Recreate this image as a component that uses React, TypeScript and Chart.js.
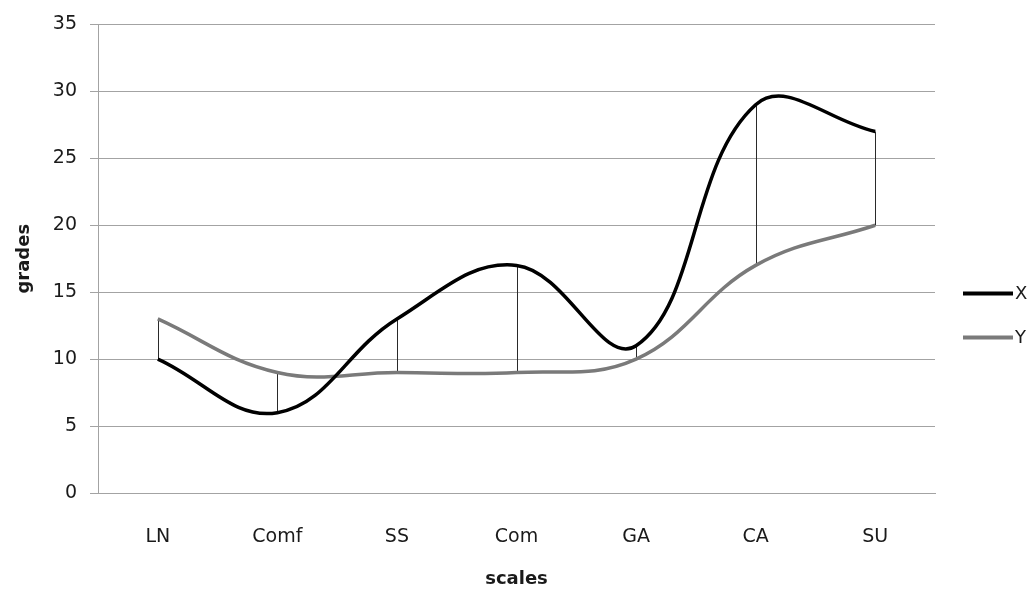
import React, { useEffect, useRef } from "react";
import { Chart, registerables } from "chart.js";

Chart.register(...registerables);

const categories = ["LN", "Comf", "SS", "Com", "GA", "CA", "SU"];
const seriesX = [10, 6, 13, 17, 11, 29, 27];
const seriesY = [13, 9, 9, 9, 10, 17, 20];
const seriesNames = ["X", "Y"];
const seriesColors = ["#000000", "#7a7a7a"];
const yMin = 0;
const yMax = 35;
const yStep = 5;

const FONT = "'DejaVu Sans', 'Open Sans', sans-serif";
const TEXT = "#1a1a1a";
const GRID = "#a3a3a3";

const hiLoPlugin = {
  id: "hiLoLines",
  beforeDatasetsDraw(chart: any) {
    const { ctx, scales } = chart;
    const a = chart.data.datasets[0].data as number[];
    const b = chart.data.datasets[1].data as number[];
    ctx.save();
    ctx.strokeStyle = "#2a2a2a";
    ctx.lineWidth = 1;
    for (let i = 0; i < a.length; i++) {
      const x = Math.round(scales.x.getPixelForValue(i)) + 0.5;
      ctx.beginPath();
      ctx.moveTo(x, scales.y.getPixelForValue(a[i]));
      ctx.lineTo(x, scales.y.getPixelForValue(b[i]));
      ctx.stroke();
    }
    ctx.restore();
  },
};

const legendPlugin = {
  id: "sideLegend",
  afterDraw(chart: any) {
    const { ctx, chartArea } = chart;
    ctx.save();
    chart.data.datasets.forEach((ds: any, i: number) => {
      const y = chartArea.top + 269 + i * 44;
      const x0 = chartArea.right + 28;
      ctx.strokeStyle = ds.borderColor;
      ctx.lineWidth = 4;
      ctx.beginPath();
      ctx.moveTo(x0, y);
      ctx.lineTo(x0 + 50, y);
      ctx.stroke();
      ctx.fillStyle = TEXT;
      ctx.font = `18px ${FONT}`;
      ctx.textAlign = "left";
      ctx.textBaseline = "middle";
      ctx.fillText(ds.label, x0 + 52, y + 1);
    });
    ctx.restore();
  },
};

export default function App() {
  const ref = useRef<HTMLCanvasElement | null>(null);

  useEffect(() => {
    if (!ref.current) return;
    const chart = new Chart(ref.current, {
      type: "line",
      data: {
        labels: categories,
        datasets: [
          {
            label: seriesNames[0],
            data: seriesX,
            borderColor: seriesColors[0],
            backgroundColor: seriesColors[0],
            borderWidth: 3.5,
            pointRadius: 0,
            tension: 0.4,
            fill: false,
          },
          {
            label: seriesNames[1],
            data: seriesY,
            borderColor: seriesColors[1],
            backgroundColor: seriesColors[1],
            borderWidth: 3.5,
            pointRadius: 0,
            tension: 0.4,
            fill: false,
          },
        ],
      },
      options: {
        animation: false,
        responsive: true,
        maintainAspectRatio: false,
        layout: { padding: { top: 23, right: 100, left: 0, bottom: 0 } },
        plugins: {
          legend: { display: false },
          tooltip: { enabled: false },
        },
        scales: {
          x: {
            offset: true,
            grid: { display: false, drawTicks: false },
            border: { display: true, color: GRID, width: 1 },
            ticks: {
              padding: 33,
              color: TEXT,
              font: { family: FONT, size: 19 },
              maxRotation: 0,
            },
            title: {
              display: true,
              text: "scales",
              color: TEXT,
              font: { family: FONT, size: 18, weight: "bold" },
              padding: { top: 0, bottom: 5 },
            },
            afterFit(scale: any) {
              scale.height = 102;
            },
          },
          y: {
            min: yMin,
            max: yMax,
            ticks: {
              stepSize: yStep,
              padding: 13,
              color: TEXT,
              font: { family: FONT, size: 19 },
            },
            grid: {
              color: GRID,
              lineWidth: 1,
              drawTicks: true,
              tickLength: 8,
            },
            border: { display: true, color: GRID, width: 1 },
            title: {
              display: true,
              text: "grades",
              color: TEXT,
              font: { family: FONT, size: 18, weight: "bold" },
              padding: { top: 14, bottom: 0 },
            },
            afterFit(scale: any) {
              scale.width = 98;
            },
          },
        },
      },
      plugins: [hiLoPlugin, legendPlugin],
    });
    return () => chart.destroy();
  }, []);

  return (
    <div style={{ position: "fixed", left: 0, top: 0, width: 1035, height: 595, background: "#fff" }}>
      <canvas ref={ref} />
    </div>
  );
}
